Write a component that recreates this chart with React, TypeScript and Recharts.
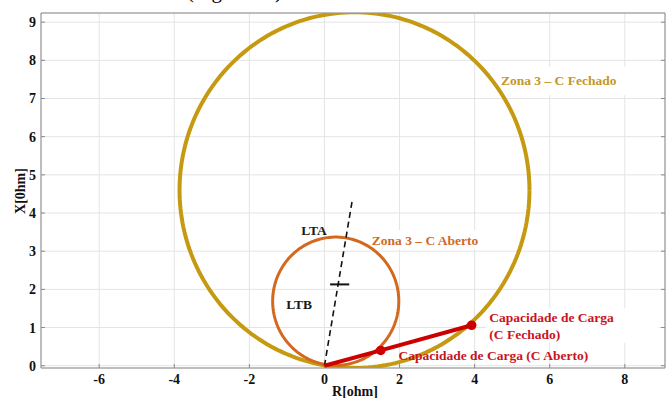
import { ComposedChart, Scatter, XAxis, YAxis, CartesianGrid, ReferenceArea, ReferenceDot } from "recharts";

const xTicks = [-6, -4, -2, 0, 2, 4, 6, 8];
const yTicks = [0, 1, 2, 3, 4, 5, 6, 7, 8, 9];
const xDomain = [-7.55, 9.07];
const yDomain = [-0.06, 9.24];

// mho characteristics: [centre R, centre X, radius] in ohm
const zonaFechado = [0.8, 4.6, 4.66];
const zonaAberto = [0.3, 1.69, 1.68];

const linhaLT = [{ x: 0, y: 0 }, { x: 0.74, y: 4.33 }];
const marcaLT = [{ x: 0.15, y: 2.13 }, { x: 0.66, y: 2.13 }];
const cargaLinha = [{ x: 0, y: 0 }, { x: 1.5, y: 0.4 }, { x: 3.92, y: 1.06 }];
const cargaPontos = [{ x: 1.5, y: 0.4 }, { x: 3.92, y: 1.06 }];

const rotulos = [
  { x: 4.7, y: 7.46, text: "Zona 3 – C Fechado", color: "#c4972a" },
  { x: 1.26, y: 3.29, text: "Zona 3 – C Aberto", color: "#d06a26" },
  { x: -0.62, y: 3.53, text: "LTA", color: "#1a1a1a" },
  { x: -1.02, y: 1.6, text: "LTB", color: "#1a1a1a" },
  { x: 4.39, y: 1.26, text: "Capacidade de Carga", color: "#c8141e" },
  { x: 4.39, y: 0.82, text: "(C Fechado)", color: "#c8141e" },
  { x: 1.97, y: 0.27, text: "Capacidade de Carga (C Aberto)", color: "#c8141e" },
];

// white boxes behind the annotations
const caixas = [
  { x1: 4.6, x2: 8.5, y1: 7.09, y2: 7.83 },
  { x1: 1.18, x2: 4.3, y1: 3.05, y2: 3.55 },
  { x1: 4.3, x2: 8.9, y1: 0.6, y2: 1.5 },
];

const circulo = ([cx, cy, r]: number[]) => {
  const pts = [];
  for (let i = 0; i <= 240; i++) {
    const a = (i / 240) * Math.PI * 2;
    pts.push({ x: cx + r * Math.cos(a), y: cy + r * Math.sin(a) });
  }
  return pts;
};

const font = "'Liberation Serif', 'Times New Roman', serif";
const noShape = () => <g />;
const tickStyle = { fill: "#111", fontSize: 14, fontWeight: "bold", fontFamily: font };

export default function App() {
  return (
    <div style={{ position: "absolute", left: 0, top: 0, width: 667, height: 398, background: "#fff", overflow: "hidden" }}>
      <div style={{ position: "absolute", left: 187, top: -21, fontFamily: font, fontSize: 21, whiteSpace: "nowrap" }}>
        (Figura 10)
      </div>
      <ComposedChart width={667} height={398} margin={{ top: 12, right: 1, bottom: 0, left: 0 }}>
        <CartesianGrid stroke="#e4e4e4" strokeWidth={1} />
        {caixas.map((c, i) => (
          <ReferenceArea key={i} x1={c.x1} x2={c.x2} y1={c.y1} y2={c.y2} fill="#fff" fillOpacity={1} stroke="none" />
        ))}
        <XAxis
          type="number"
          dataKey="x"
          domain={xDomain}
          ticks={xTicks}
          allowDataOverflow
          height={30}
          stroke="#8a8a8a"
          tickSize={-4}
          tickMargin={10}
          tick={tickStyle}
          label={(p: any) => (
            <text x={355} y={396} textAnchor="middle" fill="#111" fontSize={14} fontWeight="bold" fontFamily={font}>
              R[ohm]
            </text>
          )}
        />
        <XAxis xAxisId="top" orientation="top" type="number" domain={xDomain} ticks={xTicks} allowDataOverflow height={1} stroke="#8a8a8a" tickSize={-4} tickFormatter={() => ""} />
        <YAxis
          type="number"
          dataKey="y"
          domain={yDomain}
          ticks={yTicks}
          allowDataOverflow
          width={41}
          stroke="#8a8a8a"
          tickSize={-4}
          tickMargin={9}
          tick={tickStyle}
          label={(p: any) => (
            <text
              x={20}
              y={191}
              transform="rotate(-90 20 191)"
              textAnchor="middle"
              dominantBaseline="central"
              fill="#111"
              fontSize={14}
              fontWeight="bold"
              fontFamily={font}
            >
              X[0hm]
            </text>
          )}
        />
        <YAxis yAxisId="right" orientation="right" type="number" domain={yDomain} ticks={yTicks} allowDataOverflow width={1} stroke="#8a8a8a" tickSize={-4} tickFormatter={() => ""} />
        <Scatter data={circulo(zonaFechado)} shape={noShape} line={{ stroke: "#c69a10", strokeWidth: 4 }} lineType="joint" isAnimationActive={false} />
        <Scatter data={circulo(zonaAberto)} shape={noShape} line={{ stroke: "#d2691e", strokeWidth: 3 }} lineType="joint" isAnimationActive={false} />
        <Scatter data={linhaLT} shape={noShape} line={{ stroke: "#111", strokeWidth: 1.6, strokeDasharray: "6 4" }} isAnimationActive={false} />
        <Scatter data={marcaLT} shape={noShape} line={{ stroke: "#111", strokeWidth: 2 }} isAnimationActive={false} />
        <Scatter data={cargaLinha} shape={noShape} line={{ stroke: "#cc0000", strokeWidth: 4 }} isAnimationActive={false} />
        <Scatter
          data={cargaPontos}
          shape={(p: any) => <circle cx={p.cx} cy={p.cy} r={4.8} fill="#cc0000" />}
          isAnimationActive={false}
        />
        {rotulos.map((r, i) => (
          <ReferenceDot
            key={i}
            x={r.x}
            y={r.y}
            r={0}
            shape={(p: any) => (
              <text x={p.cx} y={p.cy} dominantBaseline="central" fill={r.color} fontSize={13.5} fontWeight="bold" fontFamily={font}>
                {r.text}
              </text>
            )}
          />
        ))}
      </ComposedChart>
    </div>
  );
}
